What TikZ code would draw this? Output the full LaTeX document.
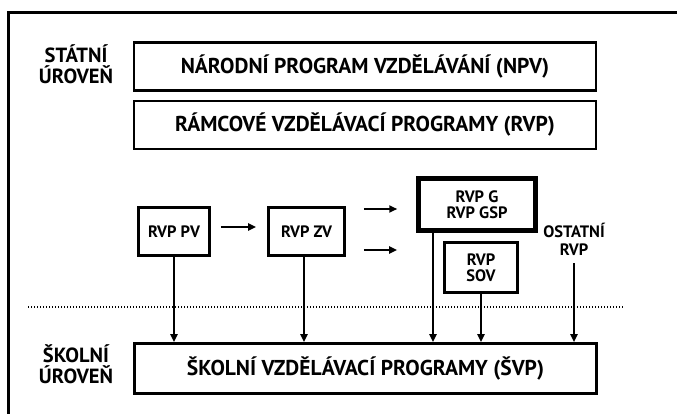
\documentclass[tikz,border=0pt]{standalone}
\usepackage{fontspec}
\setmainfont{PT Sans}
\usetikzlibrary{arrows.meta,calc,positioning}
\tikzset{flow/.style={-{Triangle[length=8pt,width=7pt]},line width=1.9pt},box/.style={draw,line width=2.6pt,align=center,inner sep=0pt,font=\bfseries\fontsize{16.5}{16}\selectfont},wide/.style={box,minimum width=462pt,minimum height=48pt,font=\bfseries\fontsize{21.5}{21}\selectfont},level/.style={align=center,inner sep=0pt,font=\bfseries\fontsize{20.5}{21}\selectfont}}
\begin{document}
\begin{tikzpicture}[x=1pt,y=-1pt]
\useasboundingbox (0,0) rectangle (677,414);
\draw[line width=3pt] (8,414)--(8,13)--(677,13);
\node[level] (st) at (76,64) {STÁTNÍ\\ÚROVEŇ};
\node[wide] (npv) at (365,66.5) {NÁRODNÍ PROGRAM VZDĚLÁVÁNÍ (NPV)};
\node[wide] (rvp) at (365,125) {RÁMCOVÉ VZDĚLÁVACÍ PROGRAMY (RVP)};
\node[box,minimum width=71pt,minimum height=48pt] (pv) at (174,231.5) {RVP PV};
\node[box,minimum width=76pt,minimum height=48pt] (zv) at (306.5,231.5) {RVP ZV};
\node[box,line width=4.5pt,minimum width=117pt,minimum height=52pt] (g) at (477,204.5) {RVP G\\RVP GSP};
\node[box,minimum width=73pt,minimum height=50pt] (sov) at (481,267.5) {RVP\\SOV};
\node[align=center,inner sep=0pt,font=\bfseries\fontsize{16.5}{18}\selectfont] (ost) at (574,239) {OSTATNÍ\\RVP};
\node[wide,minimum height=50pt] (svp) at (365.5,368.5) {ŠKOLNÍ VZDĚLÁVACÍ PROGRAMY (ŠVP)};
\node[level] (sk) at (76,364) {ŠKOLNÍ\\ÚROVEŇ};
\draw[line width=1.3pt,dash pattern=on 1.3pt off 1.7pt] (28,307)--(624,307);
% horizontal arrows
\draw[flow,shorten <=10pt,shorten >=11pt] ([yshift=4.5pt]pv.east) -- ([yshift=4.5pt]pv.east -| zv.west);
\draw[flow,shorten <=18pt,shorten >=19pt] ([yshift=22.5pt]zv.east) -- ([yshift=22.5pt]zv.east -| g.west);
\draw[flow,shorten <=18pt,shorten >=46pt] ([yshift=-18.5pt]zv.east) -- ([yshift=-18.5pt]zv.east -| sov.west);
% down to the school level
\draw[flow] (pv.south) -- (pv.south |- svp.north);
\draw[flow] ([xshift=-2.5pt]zv.south) -- ([xshift=-2.5pt]zv.south |- svp.north);
\draw[flow] ([xshift=-44pt]g.south) -- ([xshift=-44pt]g.south |- svp.north);
\draw[flow] (sov.south) -- (sov.south |- svp.north);
\draw[flow,shorten <=8pt] (ost.south) -- (ost.south |- svp.north);
\end{tikzpicture}
\end{document}
